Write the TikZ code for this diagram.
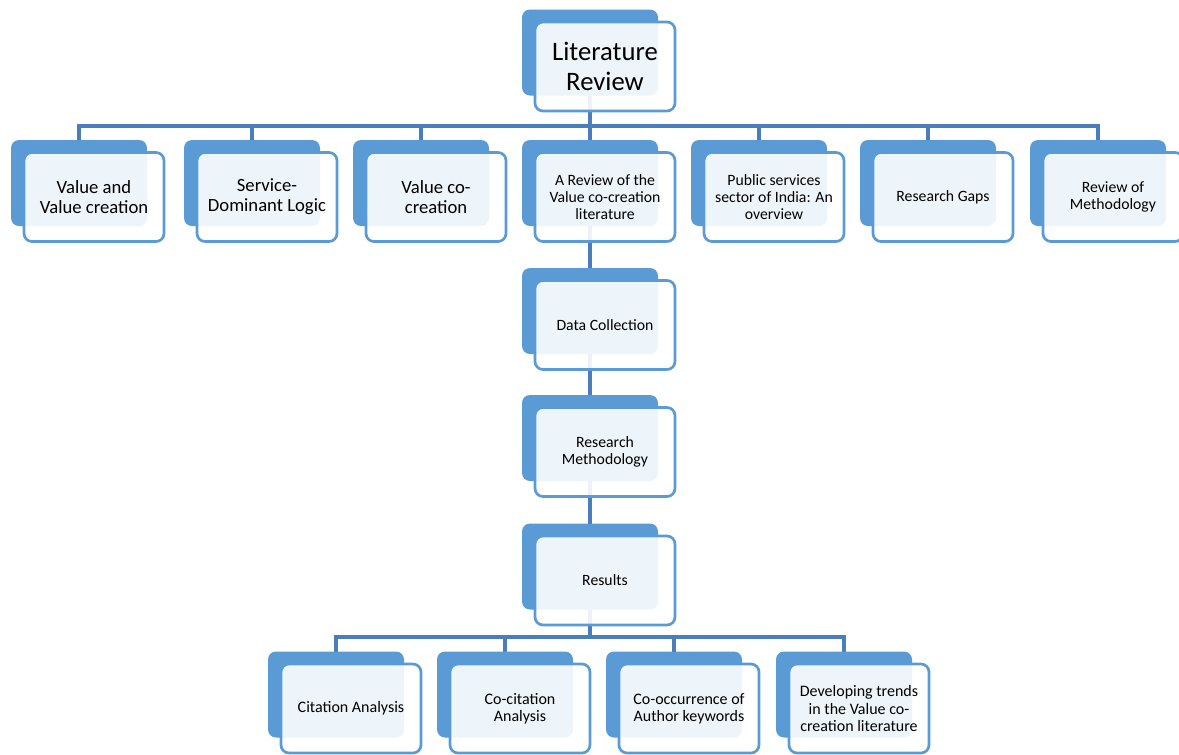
\documentclass[tikz,border=0pt]{standalone}
\usepackage{fontspec}
\setmainfont{Carlito}
\usetikzlibrary{backgrounds}
\definecolor{boxblue}{HTML}{5B9BD5}
\definecolor{linkblue}{HTML}{4A7EBB}
\tikzset{
  backbox/.style={fill=boxblue, rounded corners=6pt, minimum width=102pt,
    minimum height=64.5pt, inner sep=0pt},
  frontbox/.style={draw=boxblue, line width=2pt, fill=white, fill opacity=0.9,
    text opacity=1, rounded corners=6pt, minimum width=105pt, minimum height=66.75pt,
    align=center, inner sep=1pt, text=black},
  link/.style={draw=linkblue, line width=2.6pt},
  bigtxt/.style={font=\fontsize{20}{22.5}\selectfont},
  midtxt/.style={font=\fontsize{14}{15}\selectfont},
  smalltxt/.style={font=\fontsize{11.8}{12.75}\selectfont},
  lowtxt/.style={font=\fontsize{12}{13}\selectfont},
}
% a solid back card with a lighter card laid over it, shifted down and right
\newcommand\cardpair[5]{%
  \node[backbox] (#1B) at (#2,#3) {};
  \node[frontbox,#4] (#1) at (#2+15,#3+14) {#5};
}
\begin{document}
\begin{tikzpicture}[x=0.75pt,y=-0.75pt]
\useasboundingbox (0,0) rectangle (1179,754);
\coordinate (busA) at (0,126);
\coordinate (busB) at (0,637);

\cardpair{lit}{590}{52.5}{bigtxt}{Literature\\Review}

\cardpair{val}{79}{183}{midtxt}{Value and\\Value creation}
\cardpair{sdl}{252}{183}{midtxt}{Service-\\Dominant Logic}
\cardpair{vcc}{421}{183}{midtxt}{Value co-\\creation}
\cardpair{rev}{590}{183}{smalltxt}{A Review of the\\Value co-creation\\literature}
\cardpair{pub}{759}{183}{smalltxt}{Public services\\sector of India: An\\overview}
\cardpair{gap}{928}{183}{smalltxt}{Research Gaps}
\cardpair{meth}{1098}{183}{smalltxt}{Review of\\Methodology}

\cardpair{dc}{590}{311}{smalltxt}{Data Collection}
\cardpair{rm}{590}{438}{smalltxt}{Research\\Methodology}
\cardpair{res}{590}{566.5}{smalltxt}{Results}

\cardpair{cit}{336}{694.5}{lowtxt}{Citation Analysis}
\cardpair{coc}{505}{694.5}{lowtxt}{Co-citation\\Analysis}
\cardpair{cok}{674}{694.5}{lowtxt}{Co-occurrence of\\Author keywords}
\cardpair{dev}{844}{694.5}{lowtxt}{Developing trends\\in the Value co-\\creation literature}

\begin{scope}[on background layer]
  \foreach \c in {val,sdl,vcc,rev,pub,gap,meth}
    \draw[link] (litB.center) -- (litB.center |- busA) -| (\c B.center);
  \draw[link] (revB.center) -- (dcB.center) -- (rmB.center) -- (resB.center);
  \foreach \c in {cit,coc,cok,dev}
    \draw[link] (resB.center) -- (resB.center |- busB) -| (\c B.center);
\end{scope}
\end{tikzpicture}
\end{document}
